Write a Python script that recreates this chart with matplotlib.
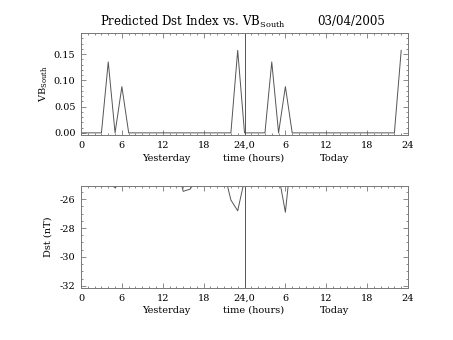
import matplotlib
matplotlib.use("Agg")
import matplotlib.pyplot as plt
from matplotlib.ticker import MultipleLocator, FixedLocator

# ---- data ----
hours = list(range(0, 48))
vb_south = [0, 0, 0, 0, 0.135, 0, 0.088, 0, 0, 0, 0, 0,
            0, 0, 0, 0, 0, 0, 0, 0, 0, 0, 0, 0.157,
            0, 0, 0, 0, 0.135, 0, 0.088, 0, 0, 0, 0, 0,
            0, 0, 0, 0, 0, 0, 0, 0, 0, 0, 0, 0.157]
dst = [-24.5, -24.5, -24.5, -24.5, -24.8, -25.2, -24.8, -24.5, -24.5, -24.5, -24.5, -24.5,
       -24.5, -24.5, -23.6, -25.45, -25.3, -24.6, -24.5, -24.5, -24.5, -24.1, -26.05, -26.8,
       -24.65, -24.5, -24.5, -24.5, -24.5, -24.3, -26.9, -22.4, -24.5, -24.5, -24.5, -24.5,
       -24.5, -24.5, -24.5, -24.5, -24.5, -24.5, -24.5, -24.5, -24.5, -24.5, -24.5, -24.5]
xtick_pos = [0, 6, 12, 18, 24, 30, 36, 42, 48]
xtick_labels = ["0", "6", "12", "18", "24,0", "6", "12", "18", "24"]
vb_ticks = [0.0, 0.05, 0.10, 0.15]
dst_ticks = [-26, -28, -30, -32]
title_text = "Predicted Dst Index vs. VB$_{\\mathregular{South}}$"
date_text = "03/04/2005"

plt.rcParams['font.family'] = ['DejaVu Serif']
plt.rcParams['mathtext.fontset'] = 'dejavuserif'
LC = '#555555'
AC = '#777777'
FS = 7

fig = plt.figure(figsize=(4.53, 3.40), dpi=100)
ax1 = fig.add_axes([0.1788, 0.6015, 0.7219, 0.3014])
ax2 = fig.add_axes([0.1788, 0.1529, 0.7219, 0.3000])

def style(ax):
    ax.set_xlim(0, 48)
    ax.xaxis.set_major_locator(FixedLocator(xtick_pos))
    ax.set_xticklabels(xtick_labels)
    ax.xaxis.set_minor_locator(MultipleLocator(1))
    ax.tick_params(which='both', direction='in', top=True, right=True,
                   color=AC, labelsize=FS, width=0.6, pad=4)
    ax.tick_params(which='major', length=3.5)
    ax.tick_params(which='minor', length=1.6)
    for s in ax.spines.values():
        s.set_color(AC)
        s.set_linewidth(0.7)
    ax.axvline(24, color=LC, lw=0.7)
    for x, t in [(12.5, "Yesterday"), (25.3, "time (hours)"), (37.2, "Today")]:
        ax.text(x, -0.22, t, transform=ax.get_xaxis_transform(), ha='center',
                va='center', fontsize=FS)

ax1.plot(hours, vb_south, color=LC, lw=0.7)
ax1.set_ylim(-0.005, 0.19)
ax1.yaxis.set_major_locator(FixedLocator(vb_ticks))
ax1.set_yticklabels(["%.2f" % v for v in vb_ticks])
ax1.yaxis.set_minor_locator(MultipleLocator(0.01))
style(ax1)
ax1.set_ylabel("VB$_{\\mathregular{South}}$", fontsize=FS, labelpad=3)

ax2.plot(hours, dst, color=LC, lw=0.7)
ax2.set_ylim(-32.16, -25.08)
ax2.yaxis.set_major_locator(FixedLocator(dst_ticks))
ax2.set_yticklabels([str(v) for v in dst_ticks])
ax2.yaxis.set_minor_locator(MultipleLocator(0.5))
style(ax2)
ax2.set_ylabel("Dst (nT)", fontsize=FS, labelpad=5)

fig.text(0.425, 0.925, title_text, ha='center', va='baseline', fontsize=8.5)
fig.text(0.775, 0.925, date_text, ha='center', va='baseline', fontsize=8.5)

fig.savefig("out.png", dpi=100)
